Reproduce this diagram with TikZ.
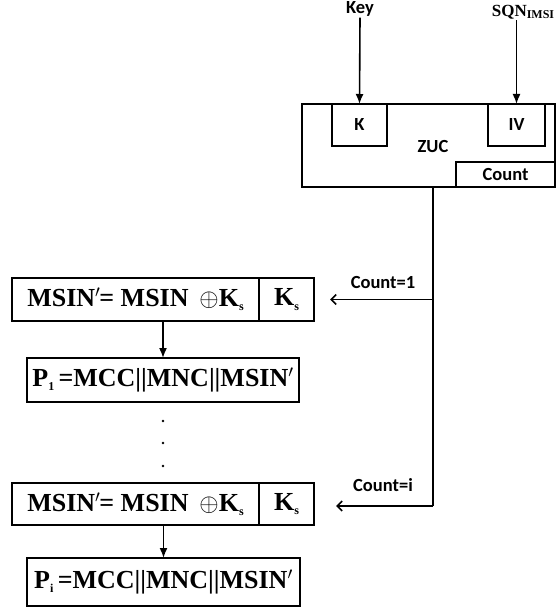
\documentclass[tikz,border=0pt]{standalone}
\usepackage{fontspec}
\setmainfont{Liberation Serif}
\newfontfamily\calfont{Carlito}
\usetikzlibrary{positioning, arrows.meta}
\newcommand{\eqfont}{\fontsize{26}{30}\selectfont\bfseries}
\newcommand{\tagfont}{\calfont\fontsize{18.5}{22}\selectfont\bfseries}
\newcommand{\lowsub}[1]{\raisebox{-0.35ex}{\fontsize{12}{12}\selectfont #1}}
\tikzset{
x=1pt, y=-1pt, % pixel units, y grows downwards
>={Latex[length=10pt,width=8pt]}, % filled heads for the data flow
box/.style={draw, line width=1.6pt, inner sep=0pt, outer sep=0pt},
eqbox/.style={box, font=\eqfont},
tagbox/.style={box, font=\tagfont},
tag/.style={font=\tagfont, inner sep=1pt},
feed/.style={->, line width=1.6pt},
count/.style={-{Straight Barb[length=5pt,width=10pt]}, line width=1.6pt}, % open heads for the counter
}
\begin{document}
\begin{tikzpicture}
\useasboundingbox (0,0) rectangle (556,612);
% ZUC generator
\node[tagbox, minimum width=253, minimum height=83] (zuc) at (428.5,145.5) {};
\node[tag] (zuctext) at (433,147) {ZUC};
\node[tagbox, minimum width=55, minimum height=42] (k) at (359.5,125) {K};
\node[tagbox, minimum width=57, minimum height=42] (iv) at (516.5,125) {IV};
\node[tagbox, minimum width=99, minimum height=25] (count) at (505.5,174.5) {Count};
\node[tag] (key) at (360,9) {Key};
\node[font=\fontsize{17}{20}\selectfont\bfseries, inner sep=1pt] (sqn) at (523,12) {SQN\lowsub{IMSI}};
\draw[feed] (key.south) -- (k.north);
\draw[feed] (sqn.south -| iv.north) -- (iv.north);
% counter line
\coordinate (c1) at (433,299.5);
\coordinate (ci) at (433,506);
\draw[line width=1.6pt] (zuc.south -| c1) -- (ci);
\node[tag] (c1text) at (383,283) {Count=1};
\node[tag] (citext) at (383,485) {Count=i};
% first round
\node[eqbox, minimum width=247, minimum height=43] (msin1) at (135.5,299.5) {MSIN$'$\kern-1pt= MSIN \,$\oplus$K\lowsub{s}};
\node[eqbox, minimum width=55, minimum height=43, right=0pt of msin1] (ks1) {K\lowsub{s}};
\node[eqbox, minimum width=272, minimum height=44] (p1) at (163,380) {P\lowsub{1}\,=MCC||MNC||MSIN$'$};
\draw[feed] (msin1.south -| p1.north) -- (p1.north);
\draw[count] (c1) -- ([xshift=16pt]ks1.east);
% dots
\foreach \y in {421,443,466}
  \fill (163,\y) circle (1.4pt);
% round i
\node[eqbox, minimum width=247, minimum height=42] (msin2) at (135.5,504) {MSIN$'$\kern-1pt= MSIN \,$\oplus$K\lowsub{s}};
\node[eqbox, minimum width=55, minimum height=42, right=0pt of msin2] (ks2) {K\lowsub{s}};
\node[eqbox, minimum width=273, minimum height=48] (pi) at (163.5,582) {P\lowsub{i}\,=MCC||MNC||MSIN$'$};
\draw[feed] (msin2.south -| pi.north) -- (pi.north);
\draw[count] (ci) -- ([xshift=22pt]ks2.east |- ci);
\end{tikzpicture}
\end{document}
